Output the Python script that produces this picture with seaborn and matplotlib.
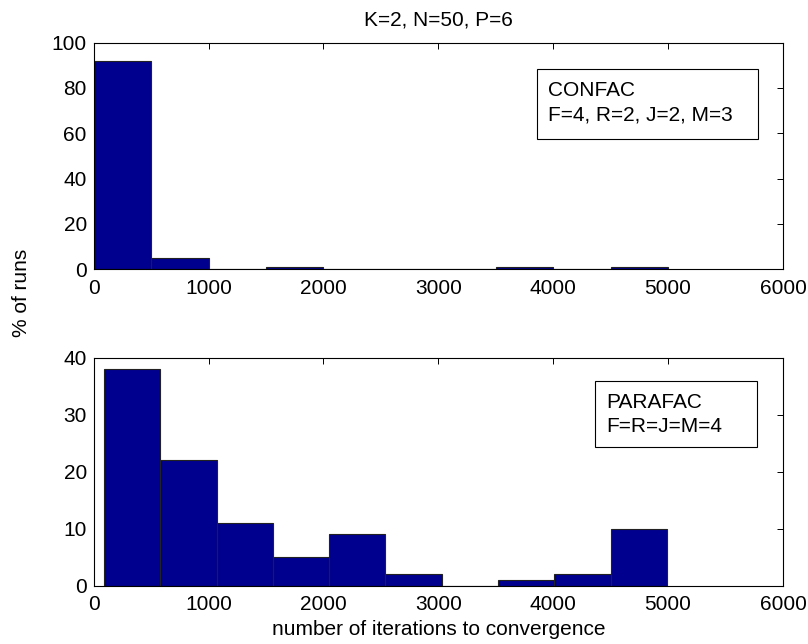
import numpy as np
import pandas as pd
import matplotlib
matplotlib.use("Agg")
import matplotlib.pyplot as plt
from matplotlib.patches import Rectangle
import seaborn as sns

# ---- data ----
confac_edges = [0, 500, 1000, 1500, 2000, 2500, 3000, 3500, 4000, 4500, 5000]
confac_pct = [92, 5, 0, 1, 0, 0, 0, 1, 0, 1]

parafac_edges = [90, 580, 1070, 1560, 2050, 2540, 3030, 3520, 4010, 4500, 4990]
parafac_pct = [38, 22, 11, 5, 9, 2, 0, 1, 2, 10]

x_ticks = [0, 1000, 2000, 3000, 4000, 5000, 6000]

sns.set_style("white")
plt.rcParams['font.family'] = ['Liberation Sans', 'DejaVu Sans']
plt.rcParams['font.size'] = 15
plt.rcParams['text.color'] = 'black'
plt.rcParams['axes.labelcolor'] = 'black'

BAR = '#00008F'
FS = 15


def centers(edges):
    e = np.asarray(edges, dtype=float)
    return (e[:-1] + e[1:]) / 2


fig = plt.figure(figsize=(8.08, 6.44), dpi=100)
ax1 = fig.add_axes([0.116, 0.582, 0.853, 0.352])
ax2 = fig.add_axes([0.116, 0.0905, 0.853, 0.3536])

for ax, edges, pct in [(ax1, confac_edges, confac_pct), (ax2, parafac_edges, parafac_pct)]:
    df = pd.DataFrame({'iters': centers(edges), 'pct': pct})
    sns.histplot(data=df, x='iters', weights='pct', bins=edges, ax=ax,
                 color=BAR, alpha=1, edgecolor='#222222', linewidth=0.8)
    ax.set_xlim(0, 6000)
    ax.set_xticks(x_ticks)
    ax.set_xlabel('')
    ax.set_ylabel('')
    ax.tick_params(direction='in', length=4.5, width=0.7, top=True, right=True,
                   labelsize=FS, pad=5, colors='black')
    ax.tick_params(axis='x', pad=7)
    for s in ax.spines.values():
        s.set_visible(True)
        s.set_color('black')
        s.set_linewidth(0.8)

ax1.set_ylim(0, 100)
ax1.set_yticks([0, 20, 40, 60, 80, 100])
ax2.set_ylim(0, 40)
ax2.set_yticks([0, 10, 20, 30, 40])

ax1.set_title('K=2, N=50, P=6', fontsize=FS, pad=12.5, color='black')
ax2.set_xlabel('number of iterations to convergence', fontsize=FS, labelpad=4)
fig.text(0.026, 0.545, '% of runs', rotation=90, va='center', ha='center', fontsize=FS)

# annotation boxes
ax1.add_patch(Rectangle((0.643, 0.5765), 0.321, 0.3045, transform=ax1.transAxes,
                        fill=True, facecolor='white', edgecolor='black', linewidth=0.8, zorder=5))
ax1.text(0.659, 0.763, 'CONFAC', transform=ax1.transAxes, va='baseline', fontsize=FS, zorder=6)
ax1.text(0.659, 0.657, 'F=4, R=2, J=2, M=3', transform=ax1.transAxes, va='baseline', fontsize=FS, zorder=6)

ax2.add_patch(Rectangle((0.7276, 0.610), 0.2346, 0.289, transform=ax2.transAxes,
                        fill=True, facecolor='white', edgecolor='black', linewidth=0.8, zorder=5))
ax2.text(0.743, 0.779, 'PARAFAC', transform=ax2.transAxes, va='baseline', fontsize=FS, zorder=6)
ax2.text(0.743, 0.676, 'F=R=J=M=4', transform=ax2.transAxes, va='baseline', fontsize=FS, zorder=6)

fig.savefig('out.png', dpi=100)
